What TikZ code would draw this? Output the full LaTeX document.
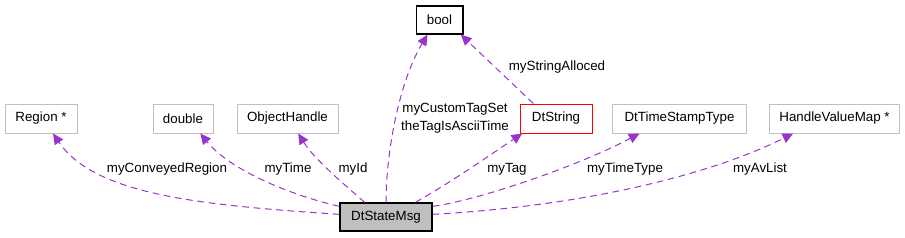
\documentclass[tikz,border=0pt]{standalone}
\usepackage{fontspec}
\setmainfont{Liberation Sans}
\usetikzlibrary{arrows.meta,positioning}
\definecolor{memberedge}{HTML}{9A32CD}
\definecolor{boxgray}{HTML}{BFBFBF}
\definecolor{refred}{HTML}{FF0000}

\begin{document}
\begin{tikzpicture}[
    x=0.75pt, y=-0.75pt,
    every node/.style={font=\fontsize{10}{13.5}\selectfont},
    box/.style={rectangle, draw=boxgray, line width=0.75pt, minimum height=21.75pt, inner sep=0pt, align=center},
    mainbox/.style={box, draw=black, fill=boxgray, line width=1pt, minimum height=21pt},
    member/.style={draw=memberedge, line width=0.75pt, dash pattern=on 5pt off 3.5pt, -{Triangle[length=8pt, width=7.5pt]}},
    edgelabel/.style={inner sep=0pt, align=center},
]
\useasboundingbox (0,0) rectangle (905,237);

% Class itself
\node[mainbox, minimum width=69pt] (msg) at (386,217) {DtStateMsg};

% Member types
\node[box, minimum width=54pt] (region) at (41,118.5) {Region *};
\node[box, minimum width=45pt] (double) at (183,118.5) {double};
\node[box, minimum width=75.75pt] (objhandle) at (287.5,118.5) {ObjectHandle};
\node[box, draw=black, line width=1pt, minimum width=35pt, minimum height=21pt] (bool) at (439.5,20) {bool};
\node[box, draw=refred, minimum width=54pt] (dtstring) at (556,118.5) {DtString};
\node[box, minimum width=100pt] (timestamp) at (679.5,118.5) {DtTimeStampType};
\node[box, minimum width=98pt] (hvmap) at (834.5,118.5) {HandleValueMap *};

% Edge labels
\node[edgelabel] (lblregion) at (167,169) {myConveyedRegion};
\node[edgelabel] (lbltime) at (288,169) {myTime};
\node[edgelabel] (lblid) at (353,169) {myId};
\node[edgelabel] (lblbool) at (455,118) {myCustomTagSet\\theTagIsAsciiTime};
\node[edgelabel] (lblalloc) at (557,67) {myStringAlloced};
\node[edgelabel] (lbltag) at (507,169) {myTag};
\node[edgelabel] (lbltimetype) at (625,169) {myTimeType};
\node[edgelabel] (lblavlist) at (760,169) {myAvList};

% Member edges
\draw[member] ([yshift=2pt]msg.west) .. controls (200,205) and (95,195) .. ([xshift=9pt]region.south);
\draw[member] ([yshift=-3pt]msg.north west) .. controls (290,195) and (230,170) .. ([xshift=13pt]double.south);
\draw[member] ([xshift=-16pt]msg.north) .. controls (345,185) and (315,160) .. ([xshift=8pt]objhandle.south);
\draw[member] (msg.north) .. controls (386,150) and (400,80) .. ([xshift=-9pt]bool.south);
\draw[member] ([xshift=-17pt]dtstring.north) -- ([xshift=-2pt]bool.south east);
\draw[member] ([xshift=22pt]msg.north) .. controls (450,183) and (490,155) .. ([xshift=2pt]dtstring.south west);
\draw[member] ([yshift=-3pt]msg.north east) .. controls (480,200) and (580,165) .. ([xshift=-30pt]timestamp.south);
\draw[member] ([yshift=2pt]msg.east) .. controls (600,205) and (720,170) .. ([xshift=-31pt]hvmap.south);

\end{tikzpicture}
\end{document}
